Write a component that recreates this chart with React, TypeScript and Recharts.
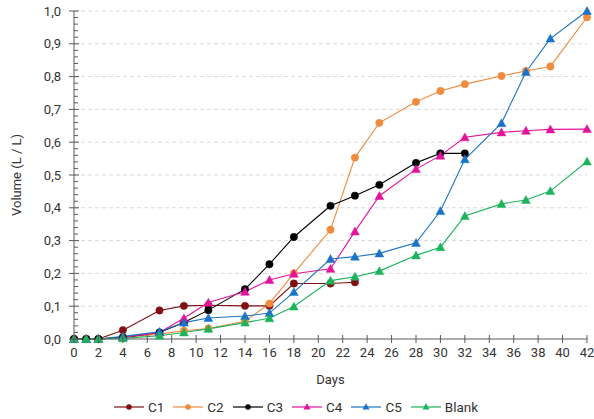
import React from 'react';
import { LineChart, Line, XAxis, YAxis, ReferenceLine, Legend } from 'recharts';

const days = [0, 1, 2, 4, 7, 9, 11, 14, 16, 18, 21, 23, 25, 28, 30, 32, 35, 37, 39, 42];
const c1 = [0, 0, 0, 0.027, 0.087, 0.101, 0.103, 0.101, 0.101, 0.169, 0.169, 0.173, null, null, null, null, null, null, null, null];
const c2 = [0, 0, 0, 0.005, 0.015, 0.025, 0.032, 0.054, 0.108, 0.2, 0.333, 0.553, 0.659, 0.723, 0.756, 0.777, 0.802, 0.817, 0.831, 0.981];
const c3 = [0, 0, 0, 0.005, 0.02, 0.05, 0.088, 0.152, 0.228, 0.311, 0.406, 0.437, 0.47, 0.537, 0.566, 0.566, null, null, null, null];
const c4 = [0, 0, 0, 0.005, 0.02, 0.063, 0.111, 0.144, 0.18, 0.199, 0.214, 0.328, 0.436, 0.518, 0.559, 0.615, 0.63, 0.635, 0.639, 0.64];
const c5 = [0, 0, 0, 0.008, 0.022, 0.05, 0.064, 0.07, 0.079, 0.143, 0.244, 0.251, 0.261, 0.293, 0.39, 0.548, 0.658, 0.814, 0.916, 1.0];
const blank = [0, 0, 0, 0.002, 0.01, 0.02, 0.031, 0.05, 0.063, 0.099, 0.178, 0.19, 0.207, 0.255, 0.28, 0.375, 0.412, 0.424, 0.451, 0.541];

const xTicks = [0, 2, 4, 6, 8, 10, 12, 14, 16, 18, 20, 22, 24, 26, 28, 30, 32, 34, 36, 38, 40, 42];
const yMinorTicks = Array.from({ length: 51 }, (_, i) => Math.round(i * 2) / 100);
const yGrid = [0.1, 0.2, 0.3, 0.4, 0.5, 0.6, 0.7, 0.8, 0.9, 1.0];

const series = [
  { key: 'C1', values: c1, color: '#7F0F12', shape: 'circle' },
  { key: 'C2', values: c2, color: '#F08A3C', shape: 'circle' },
  { key: 'C3', values: c3, color: '#000000', shape: 'circle' },
  { key: 'C4', values: c4, color: '#E3139B', shape: 'triangle' },
  { key: 'C5', values: c5, color: '#1A73C8', shape: 'triangle' },
  { key: 'Blank', values: blank, color: '#1DB35C', shape: 'triangle' },
];

const data = days.map((d, i) => {
  const row: any = { day: d };
  series.forEach((s) => { row[s.key] = s.values[i]; });
  return row;
});

const FONT = 'Roboto, "Noto Sans", sans-serif';
const TEXT = '#333333';
const AXIS = '#595959';

const Marker = ({ cx, cy, color, shape }: any) => {
  if (cx == null || cy == null) return null;
  if (shape === 'circle') return <circle cx={cx} cy={cy} r={3.7} fill={color} stroke={color} strokeWidth={0.5} />;
  const s = 4.4;
  return <polygon points={`${cx},${cy - s} ${cx - s},${cy + s * 0.8} ${cx + s},${cy + s * 0.8}`} fill={color} stroke={color} strokeWidth={0.5} />;
};

const XTick = ({ x, y, payload }: any) => (
  <g>
    <line x1={x} x2={x} y1={y - 4} y2={y + 4} stroke={AXIS} strokeWidth={1} />
    <text x={x} y={y + 18} textAnchor="middle" fontSize={13} fill={TEXT} fontFamily={FONT}>{payload.value}</text>
  </g>
);

const YTick = ({ x, y, payload }: any) => {
  const v = payload.value;
  const major = Math.abs(v * 10 - Math.round(v * 10)) < 1e-6;
  if (!major) return <line x1={x} x2={x + 4} y1={y} y2={y} stroke={AXIS} strokeWidth={1} />;
  return (
    <g>
      <line x1={x - 5} x2={x + 5} y1={y} y2={y} stroke={AXIS} strokeWidth={1} />
      <text x={x - 13} y={y + 4.5} textAnchor="end" fontSize={13} fill={TEXT} fontFamily={FONT}>{v.toFixed(1).replace('.', ',')}</text>
    </g>
  );
};

const LegendContent = () => (
  <div style={{ display: 'flex', justifyContent: 'center', alignItems: 'center', fontFamily: FONT, fontSize: 13.5, color: TEXT, paddingLeft: 14, paddingTop: 8 }}>
    {series.map((s) => (
      <div key={s.key} style={{ display: 'flex', alignItems: 'center', marginRight: 9 }}>
        <svg width={30} height={12} style={{ marginRight: 4 }}>
          <line x1={0} x2={30} y1={6} y2={6} stroke={s.color} strokeWidth={1.2} />
          {s.shape === 'circle'
            ? <circle cx={15} cy={6} r={2.8} fill={s.color} />
            : <polygon points="15,2.3 11.5,8.6 18.5,8.6" fill={s.color} />}
        </svg>
        <span>{s.key}</span>
      </div>
    ))}
  </div>
);

export default function App() {
  return (
    <div style={{ position: 'absolute', left: 0, top: 0, width: 594, height: 419, background: '#fff' }}>
      <LineChart width={594} height={419} data={data} margin={{ top: 11, right: 7, bottom: 0, left: 0 }}>
        {yGrid.map((v) => (
          <ReferenceLine key={v} y={v} stroke="#D9D9D9" strokeDasharray="4 3" strokeWidth={1} />
        ))}
        <XAxis
          dataKey="day"
          type="number"
          domain={[0, 42]}
          ticks={xTicks}
          interval={0}
          tickSize={0}
          tickMargin={0}
          tickLine={false}
          tick={<XTick />}
          stroke={AXIS}
          height={52}
          label={{ value: 'Days', position: 'insideBottom', offset: 7, fontSize: 13, fill: TEXT, fontFamily: FONT }}
        />
        <YAxis
          type="number"
          domain={[0, 1]}
          ticks={yMinorTicks}
          interval={0}
          tickSize={0}
          tickMargin={0}
          tickLine={false}
          tick={<YTick />}
          stroke={AXIS}
          width={74}
          allowDecimals
          label={{ value: 'Volume (L / L)', angle: -90, position: 'insideLeft', offset: 16, fontSize: 13, fill: TEXT, fontFamily: FONT, style: { textAnchor: 'middle' } }}
        />
        <Legend verticalAlign="bottom" height={28} content={<LegendContent />} />
        {series.map((s) => (
          <Line
            key={s.key}
            dataKey={s.key}
            stroke={s.color}
            strokeWidth={1.1}
            isAnimationActive={false}
            dot={(p: any) => <Marker key={`${s.key}-${p.index}`} cx={p.cx} cy={p.cy} color={s.color} shape={s.shape} />}
            activeDot={false}
          />
        ))}
      </LineChart>
    </div>
  );
}
